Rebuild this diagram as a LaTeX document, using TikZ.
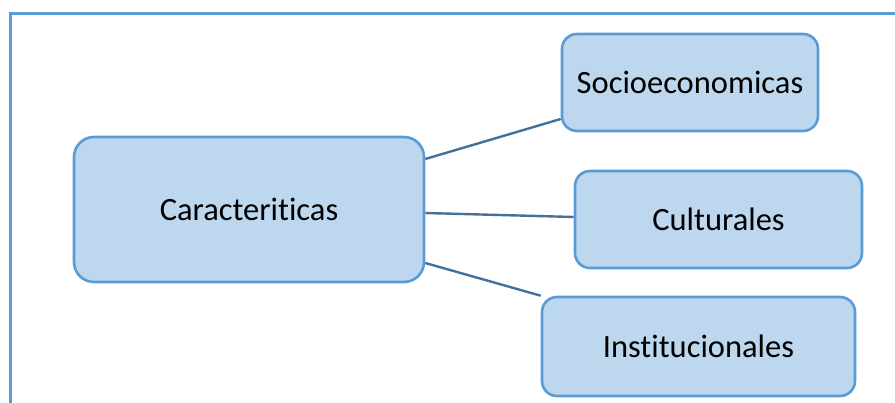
\documentclass[tikz,border=0pt]{standalone}
\usepackage{fontspec}
\setmainfont[Ligatures=NoCommon]{Carlito}
\usetikzlibrary{positioning,calc}

\definecolor{boxfill}{HTML}{BDD7EE}
\definecolor{boxline}{HTML}{5B9BD5}
\definecolor{linkline}{HTML}{41719C}

\begin{document}
\begin{tikzpicture}
[x=1pt,y=-1pt,
%
topic/.style={shape=rectangle,draw=boxline,fill=boxfill,line width=2.6pt,
  rounded corners=15pt,inner sep=0pt,font=\fontsize{32.5}{38}\selectfont},
main/.style={topic,rounded corners=20pt},
link/.style={draw=linkline,line width=2.4pt},
frame/.style={draw=boxline,line width=3pt}]
%
\useasboundingbox (0,0) rectangle (895,403);
% frame
\draw[frame] (10,403) -- (10,14) -- (895,14);
%%
% boxes
\node (carac) [main,minimum width=350pt,minimum height=145pt] at (249,209.5) {Caracteriticas};
\node (socio) [topic,minimum width=256pt,minimum height=97pt] at (690,82.5) {Socioeconomicas};
\node (cult) [topic,minimum width=287pt,minimum height=97pt] at (718.5,219.5) {Culturales};
\node (inst) [topic,minimum width=313pt,minimum height=99pt] at (698.5,346.5) {Institucionales};
%%
% links
\draw[link] ([yshift=50.5pt]carac.east) -- ([yshift=-36.5pt]socio.west);
\draw[link] ([yshift=-3.5pt]carac.east) -- ([yshift=2.5pt]cult.west);
\draw[link] ([yshift=-53.5pt]carac.east) -- (inst.north west);
\end{tikzpicture}
\end{document}
